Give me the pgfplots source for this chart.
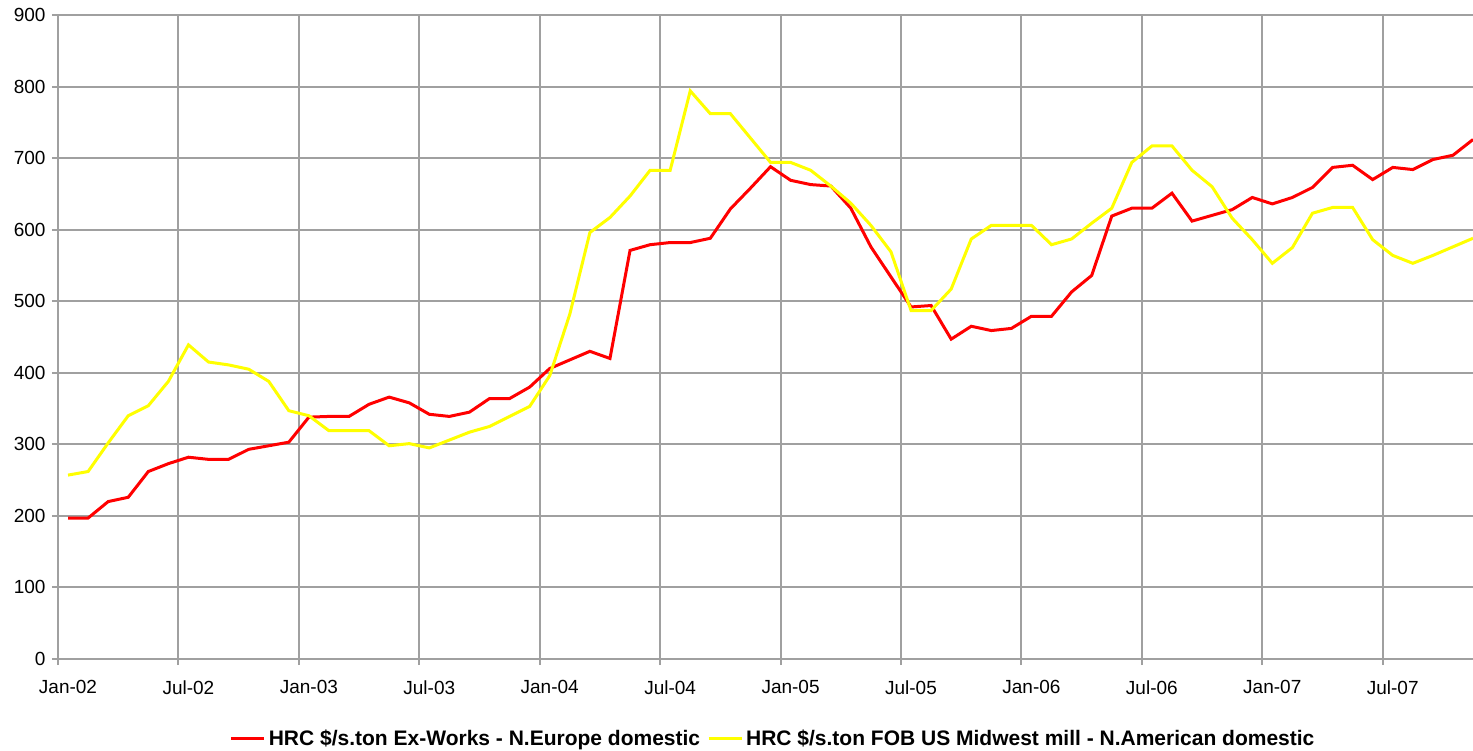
\documentclass[border=0pt]{standalone}
\usepackage{fontspec}
\setmainfont{Liberation Sans}
\usepackage{pgfplots}
\pgfplotsset{compat=1.18}
\definecolor{gridgray}{HTML}{A0A0A0}
\definecolor{hrcred}{HTML}{FF0000}
\definecolor{hrcyellow}{HTML}{FFFF00}
\begin{document}
\begin{tikzpicture}
\useasboundingbox (-58pt,-91pt) rectangle (1415pt,659pt);
\begin{axis}[
  at={(0pt,0pt)}, anchor=south west,
  scale only axis, width=1415pt, height=644pt,
  xmin=0, xmax=70.5, ymin=0, ymax=900,
  axis x line*=bottom, axis y line*=left,
  axis line style={gridgray, line width=2.5pt},
  xtick={0,6,...,66},
  xticklabels={Jan-02,Jul-02,Jan-03,Jul-03,Jan-04,Jul-04,Jan-05,Jul-05,Jan-06,Jul-06,Jan-07,Jul-07},
  ytick={0,100,...,900},
  grid=major, grid style={gridgray, line width=2pt},
  tick align=outside, major tick length=6pt,
  tick style={gridgray, line width=2pt},
  /pgf/number format/assume math mode=true,
  xticklabel style={font=\fontsize{19}{19}\selectfont, xshift=10pt, yshift=-12pt},
  yticklabel style={font=\fontsize{19}{19}\selectfont, xshift=-3pt},
  legend columns=2,
  legend style={at={(0.5057,-0.1227)}, anchor=center, draw=none, fill=none,
    font=\bfseries\fontsize{21}{21}\selectfont,
    nodes={inner xsep=3pt, inner ysep=2pt},
    /tikz/every even column/.append style={column sep=4pt}},
  legend image code/.code={\draw[#1] (0pt,0pt) -- (33pt,0pt);},
]
\addplot[hrcred, line width=3pt] table[x=k, y=v] {
k v
0.5 197
1.5 197
2.5 220
3.5 226
4.5 262
5.5 273
6.5 282
7.5 279
8.5 279
9.5 293
10.5 298
11.5 303
12.5 338
13.5 339
14.5 339
15.5 356
16.5 366
17.5 358
18.5 342
19.5 339
20.5 345
21.5 364
22.5 364
23.5 380
24.5 406
25.5 418
26.5 430
27.5 420
28.5 571
29.5 579
30.5 582
31.5 582
32.5 588
33.5 629
34.5 658
35.5 688
36.5 669
37.5 663
38.5 661
39.5 630
40.5 576
41.5 534
42.5 492
43.5 494
44.5 447
45.5 465
46.5 459
47.5 462
48.5 479
49.5 479
50.5 513
51.5 536
52.5 619
53.5 630
54.5 630
55.5 651
56.5 612
57.5 620
58.5 628
59.5 645
60.5 636
61.5 645
62.5 659
63.5 687
64.5 690
65.5 670
66.5 687
67.5 684
68.5 698
69.5 704
70.5 726
};
\addlegendentry{HRC \$/s.ton Ex-Works - N.Europe domestic}
\addplot[hrcyellow, line width=3pt] table[x=k, y=v] {
k v
0.5 257
1.5 262
2.5 302
3.5 340
4.5 354
5.5 388
6.5 439
7.5 415
8.5 411
9.5 405
10.5 388
11.5 347
12.5 340
13.5 319
14.5 319
15.5 319
16.5 298
17.5 301
18.5 295
19.5 306
20.5 317
21.5 325
22.5 339
23.5 353
24.5 396
25.5 482
26.5 596
27.5 617
28.5 647
29.5 683
30.5 683
31.5 794
32.5 762
33.5 762
34.5 728
35.5 694
36.5 694
37.5 683
38.5 661
39.5 637
40.5 606
41.5 569
42.5 487
43.5 487
44.5 517
45.5 587
46.5 606
47.5 606
48.5 606
49.5 579
50.5 587
51.5 609
52.5 630
53.5 694
54.5 717
55.5 717
56.5 683
57.5 660
58.5 616
59.5 586
60.5 553
61.5 575
62.5 623
63.5 631
64.5 631
65.5 586
66.5 564
67.5 553
68.5 564
69.5 576
70.5 588
};
\addlegendentry{HRC \$/s.ton FOB US Midwest mill - N.American domestic}
\end{axis}
\end{tikzpicture}
\end{document}
